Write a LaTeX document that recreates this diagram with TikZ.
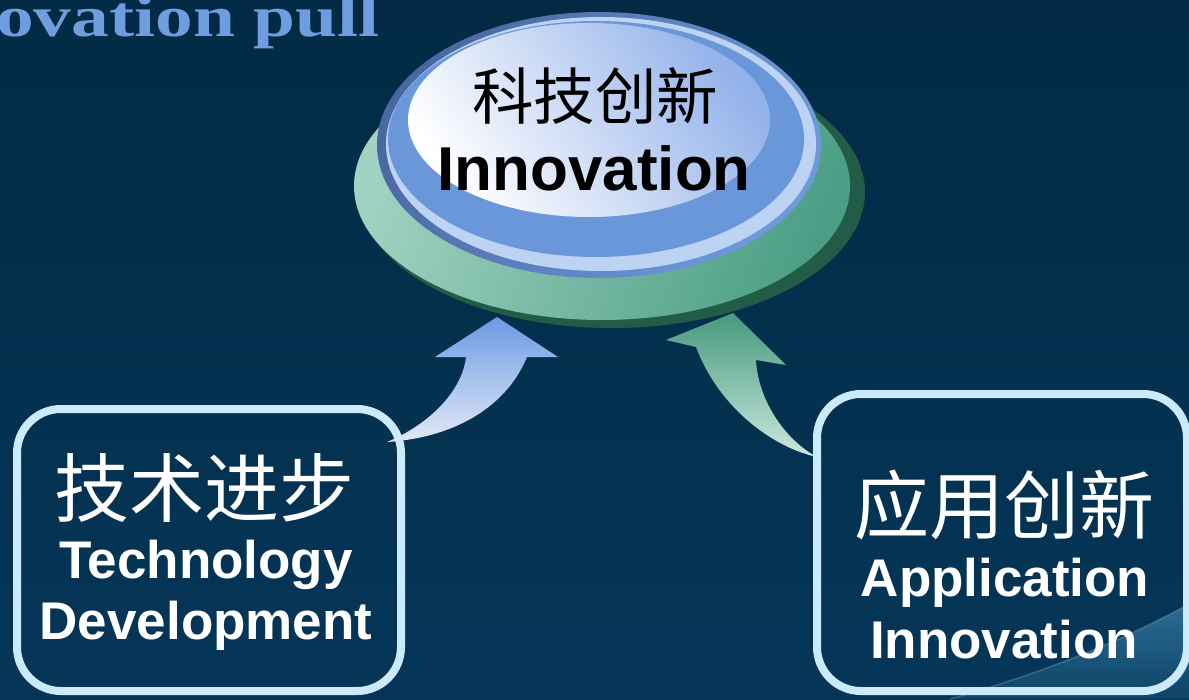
\documentclass[tikz,border=0pt]{standalone}
\usepackage{fontspec}
\setmainfont{Liberation Sans}
\newfontfamily\cjk{Noto Sans CJK SC}
\newfontfamily\serifbold{Liberation Serif}
\usetikzlibrary{shapes.geometric}
\definecolor{bgtop}{HTML}{022A44}
\definecolor{bgbot}{HTML}{053658}
\definecolor{swooshA}{HTML}{2C6C94}
\definecolor{swooshB}{HTML}{0D4366}
\definecolor{boxline}{HTML}{CBEBFD}
\definecolor{titleblue}{HTML}{6E9EE0}
\definecolor{rimdark}{HTML}{4A68A0}
\definecolor{rimmid}{HTML}{6E9ADC}
\definecolor{ringlight}{HTML}{BDD3F3}
\definecolor{bodyblue}{HTML}{6A97D9}
\definecolor{hiend}{HTML}{93B2EA}
\definecolor{greenlight}{HTML}{A2D2C2}
\definecolor{greendark}{HTML}{4C9F86}
\definecolor{greenedge}{HTML}{235C46}
\definecolor{arrowblue}{HTML}{6C9AE2}
\definecolor{arrowbluepale}{HTML}{E2E9F8}
\definecolor{arrowgreen}{HTML}{45997C}
\definecolor{arrowgreenpale}{HTML}{CDE8DE}
\tikzset{
  boxframe/.style={draw=boxline, line width=8pt, rounded corners=44pt, fill=none},
  cjktext/.style={text=white, inner sep=0pt, font=\cjk\fontsize{75}{75}\selectfont},
  entext/.style={text=white, inner sep=0pt, font=\bfseries\fontsize{53}{53}\selectfont},
  centercjk/.style={text=black, inner sep=0pt, font=\cjk\fontsize{61.5}{61.5}\selectfont},
  centeren/.style={text=black, inner sep=0pt, font=\bfseries\fontsize{62}{62}\selectfont},
}
\begin{document}
\begin{tikzpicture}[x=1pt,y=-1pt]
\useasboundingbox (0,0) rectangle (1189,699);
% background
\shade[top color=bgtop, bottom color=bgbot] (0,0) rectangle (1189,699);
% swoosh bottom right
\shade[top color=swooshA, bottom color=swooshB]
  (950,699) .. controls (1040,674) and (1120,642) .. (1189,604) -- (1189,699) -- cycle;
\draw[swooshA!60!white, line width=1.5pt, opacity=0.35]
  (950,699) .. controls (1040,674) and (1120,642) .. (1189,604);
% title
\node[anchor=base east, xscale=1.3, transform shape, inner sep=0pt, text=titleblue,
      font=\serifbold\bfseries\fontsize{58}{58}\selectfont] (title) at (380,36) {Innovation pull};
% boxes
\node[boxframe, minimum width=384pt, minimum height=282pt] (techbox) at (209,550) {};
\node[boxframe, minimum width=370pt, minimum height=297pt] (appbox) at (1002,542.5) {};
% central disc: green base
\fill[greenedge] (612,192) ellipse [x radius=253, y radius=136];
\shade[left color=greenlight, right color=greendark, shading angle=70] (602,186) ellipse [x radius=248, y radius=134];
% blue button
\shade[left color=rimdark, right color=rimmid, shading angle=60] (599,145) ellipse [x radius=222, y radius=133];
\fill[ringlight] (601,144) ellipse [x radius=215, y radius=127];
\fill[bodyblue] (596,139) ellipse [x radius=208, y radius=118];
\shade[left color=white, right color=hiend, shading angle=125] (589,120) ellipse [x radius=181, y radius=97];
\coordinate (discL) at (497,317);
\coordinate (discR) at (733,313);
% center texts
\node[centercjk] (innovcn) at (595,96) {科技创新};
\node[centeren, anchor=base] (innoven) at (594,190) {Innovation};
% left box texts
\node[cjktext] (techcn) at (204,488) {技术进步};
\node[entext, anchor=base] (techen1) at (206,578) {Technology};
\node[entext, anchor=base] (techen2) at (206,639) {Development};
% right box texts
\node[cjktext] (appcn) at (1004,505) {应用创新};
\node[entext, anchor=base] (appen1) at (1005,596) {Application};
\node[entext, anchor=base] (appen2) at (1004,658) {Innovation};
% left arrow (Technology -> Innovation)
\shade[top color=arrowblue, bottom color=arrowbluepale]
  (387,442) .. controls (450,438) and (505,410) .. (527,357)
  -- (558,357) -- (discL) -- (435,357) -- (466,357)
  .. controls (462,392) and (428,425) .. (387,442) -- cycle;
% right arrow (Application -> Innovation)
\shade[top color=arrowgreen, bottom color=arrowgreenpale]
  (discR) -- (786,365) -- (756,360)
  .. controls (758,400) and (785,440) .. (817,457)
  .. controls (775,448) and (720,410) .. (696,347)
  -- (666,340) -- cycle;
\end{tikzpicture}
\end{document}
